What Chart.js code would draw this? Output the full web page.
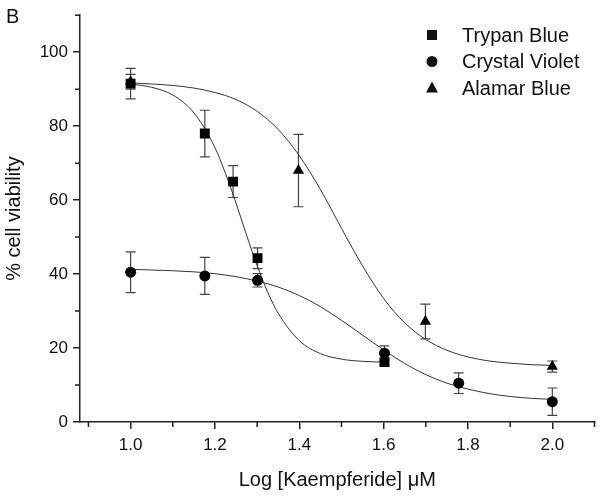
<!DOCTYPE html>
<html>
<head>
<meta charset="utf-8">
<script src="https://cdn.jsdelivr.net/npm/chart.js@4.4.0/dist/chart.umd.min.js"></script>
<style>
  html, body { margin: 0; padding: 0; background: #fff; }
  canvas { display: block; }
</style>
</head>
<body>
<canvas id="viability-chart" width="602" height="499"></canvas>
<script>
// measured points (log concentration, % viability, error)
const xTrypan = [1.0, 1.176, 1.243, 1.301, 1.602];
const yTrypan = [91.5, 78, 65, 44.3, 16.2];
const errTrypan = [4.1, 6.3, 4.3, 2.8, 0.8];

const xCrystal = [1.0, 1.176, 1.301, 1.602, 1.778, 2.0];
const yCrystal = [40.5, 39.5, 38.3, 18.6, 10.5, 5.5];
const errCrystal = [5.5, 5.0, 1.8, 2.0, 2.8, 3.7];

const xAlamar = [1.0, 1.398, 1.699, 2.0];
const yAlamar = [92, 68, 27.2, 15.0];
const errAlamar = [2.0, 9.8, 4.7, 1.5];

// fitted curves
const fitTrypanX = [1.0, 1.05, 1.1, 1.15, 1.2, 1.225, 1.25, 1.275, 1.3, 1.325, 1.35, 1.4, 1.45, 1.5, 1.55, 1.6];
const fitTrypanY = [91.4, 90.5, 88.4, 83.6, 74.2, 67.2, 59.2, 50.5, 42.3, 35.1, 29.4, 22.0, 18.5, 17.0, 16.4, 16.2];
const fitX = [1.0, 1.05, 1.1, 1.15, 1.2, 1.25, 1.3, 1.35, 1.4, 1.45, 1.5, 1.55, 1.6, 1.65, 1.7, 1.75, 1.8, 1.85, 1.9, 1.95, 2.0];
const fitCrystalY = [41.3, 41.1, 40.9, 40.6, 40.1, 39.3, 38.1, 36.5, 34.2, 31.2, 27.5, 23.5, 19.5, 15.8, 12.8, 10.5, 8.9, 7.7, 6.9, 6.4, 6.1];
const fitAlamarY = [91.7, 91.4, 91.0, 90.3, 89.1, 87.2, 84.0, 79.1, 72.0, 62.9, 52.4, 42.2, 33.4, 26.8, 22.3, 19.4, 17.6, 16.5, 15.9, 15.5, 15.3];

const xTicks = [1.0, 1.2, 1.4, 1.6, 1.8, 2.0];
const xMinorTicks = [0.9, 1.1, 1.3, 1.5, 1.7, 1.9, 2.1];
const yTicks = [0, 20, 40, 60, 80, 100];
const yMinorTicks = [10, 30, 50, 70, 90, 110];

const FONT = "'Liberation Sans', Arial, sans-serif";
const INK = "#111";

const pts = (xs, ys) => xs.map((x, i) => ({ x: x, y: ys[i] }));

function markerSet(label, xs, ys, errs, style, radius) {
  return {
    label: label,
    data: pts(xs, ys),
    err: errs,
    showLine: false,
    pointStyle: style,
    pointRadius: radius,
    backgroundColor: "#000",
    borderColor: "#000",
    borderWidth: 0,
    order: 0
  };
}

function curveSet(xs, ys) {
  return {
    label: "",
    data: pts(xs, ys),
    showLine: true,
    pointRadius: 0,
    borderColor: "#333",
    borderWidth: 1,
    cubicInterpolationMode: "monotone",
    order: 1
  };
}

function drawMarker(ctx, style, x, y) {
  ctx.beginPath();
  if (style === "rect") {
    ctx.rect(x - 5, y - 5, 10, 10);
  } else if (style === "circle") {
    ctx.arc(x, y, 5.5, 0, Math.PI * 2);
  } else {
    ctx.moveTo(x, y - 6.5);
    ctx.lineTo(x + 6, y + 4.5);
    ctx.lineTo(x - 6, y + 4.5);
    ctx.closePath();
  }
  ctx.fill();
}

// error bars under the markers
const errorBars = {
  id: "errorBars",
  beforeDatasetsDraw(chart) {
    const ctx = chart.ctx;
    const xs = chart.scales.x;
    const ys = chart.scales.y;
    ctx.save();
    ctx.strokeStyle = "#444";
    ctx.lineWidth = 1.2;
    chart.data.datasets.forEach((ds) => {
      if (!ds.err) return;
      ds.data.forEach((p, i) => {
        const px = xs.getPixelForValue(p.x);
        const top = ys.getPixelForValue(p.y + ds.err[i]);
        const bot = ys.getPixelForValue(p.y - ds.err[i]);
        ctx.beginPath();
        ctx.moveTo(px, top);
        ctx.lineTo(px, bot);
        ctx.moveTo(px - 5, top);
        ctx.lineTo(px + 5, top);
        ctx.moveTo(px - 5, bot);
        ctx.lineTo(px + 5, bot);
        ctx.stroke();
      });
    });
    ctx.restore();
  }
};

// minor ticks, legend and panel letter
const extras = {
  id: "extras",
  afterDraw(chart) {
    const ctx = chart.ctx;
    const area = chart.chartArea;
    const xs = chart.scales.x;
    const ys = chart.scales.y;
    ctx.save();
    ctx.strokeStyle = "#222";
    ctx.lineWidth = 1.5;
    ctx.beginPath();
    xMinorTicks.forEach((v) => {
      const px = xs.getPixelForValue(v);
      ctx.moveTo(px, area.bottom);
      ctx.lineTo(px, area.bottom + 5);
    });
    yMinorTicks.forEach((v) => {
      const py = ys.getPixelForValue(v);
      ctx.moveTo(area.left, py);
      ctx.lineTo(area.left - 5, py);
    });
    ctx.stroke();

    ctx.fillStyle = INK;
    ctx.font = "20px " + FONT;
    ctx.textBaseline = "middle";
    ctx.textAlign = "left";
    let rowY = 35;
    chart.data.datasets.forEach((ds) => {
      if (!ds.err) return;
      drawMarker(ctx, ds.pointStyle, 432, rowY);
      ctx.fillText(ds.label, 462, rowY + 1);
      rowY += 26.5;
    });

    ctx.font = "20px " + FONT;
    ctx.fillText("B", 6, 17);
    ctx.restore();
  }
};

const chartCtx = document.getElementById("viability-chart").getContext("2d");
const chart = new Chart(chartCtx, {
  type: "scatter",
  data: {
    datasets: [
      markerSet("Trypan Blue", xTrypan, yTrypan, errTrypan, "rect", 7),
      markerSet("Crystal Violet", xCrystal, yCrystal, errCrystal, "circle", 5.5),
      markerSet("Alamar Blue", xAlamar, yAlamar, errAlamar, "triangle", 6.5),
      curveSet(fitTrypanX, fitTrypanY),
      curveSet(fitX, fitCrystalY),
      curveSet(fitX, fitAlamarY)
    ]
  },
  options: {
    responsive: false,
    animation: false,
    layout: { padding: { top: 6, right: 7.5, bottom: 0, left: 0 } },
    plugins: {
      legend: { display: false },
      tooltip: { enabled: false }
    },
    scales: {
      x: {
        type: "linear",
        min: 0.88,
        max: 2.1,
        afterBuildTicks: (axis) => { axis.ticks = xTicks.map((v) => ({ value: v })); },
        afterFit: (scale) => { scale.height = 77; },
        ticks: {
          color: INK,
          font: { family: FONT, size: 17 },
          padding: 6,
          maxRotation: 0,
          callback: (v) => Number(v).toFixed(1)
        },
        grid: { drawOnChartArea: false, drawTicks: true, tickLength: 7, color: "#222", lineWidth: 1.5 },
        border: { display: true, color: "#222", width: 1.5 },
        title: {
          display: true,
          text: "Log [Kaempferide] \u03bcM",
          color: INK,
          font: { family: FONT, size: 20 },
          padding: { top: 0, bottom: 7 }
        }
      },
      y: {
        type: "linear",
        min: 0,
        max: 110,
        afterBuildTicks: (axis) => { axis.ticks = yTicks.map((v) => ({ value: v })); },
        afterFit: (scale) => { scale.width = 80; },
        ticks: {
          color: INK,
          font: { family: FONT, size: 17 },
          padding: 5
        },
        grid: { drawOnChartArea: false, drawTicks: true, tickLength: 7, color: "#222", lineWidth: 1.5 },
        border: { display: true, color: "#222", width: 1.5 },
        title: {
          display: true,
          text: "% cell viability",
          color: INK,
          font: { family: FONT, size: 20 },
          padding: { top: 2, bottom: 0 }
        }
      }
    }
  },
  plugins: [errorBars, extras]
});
</script>
</body>
</html>
